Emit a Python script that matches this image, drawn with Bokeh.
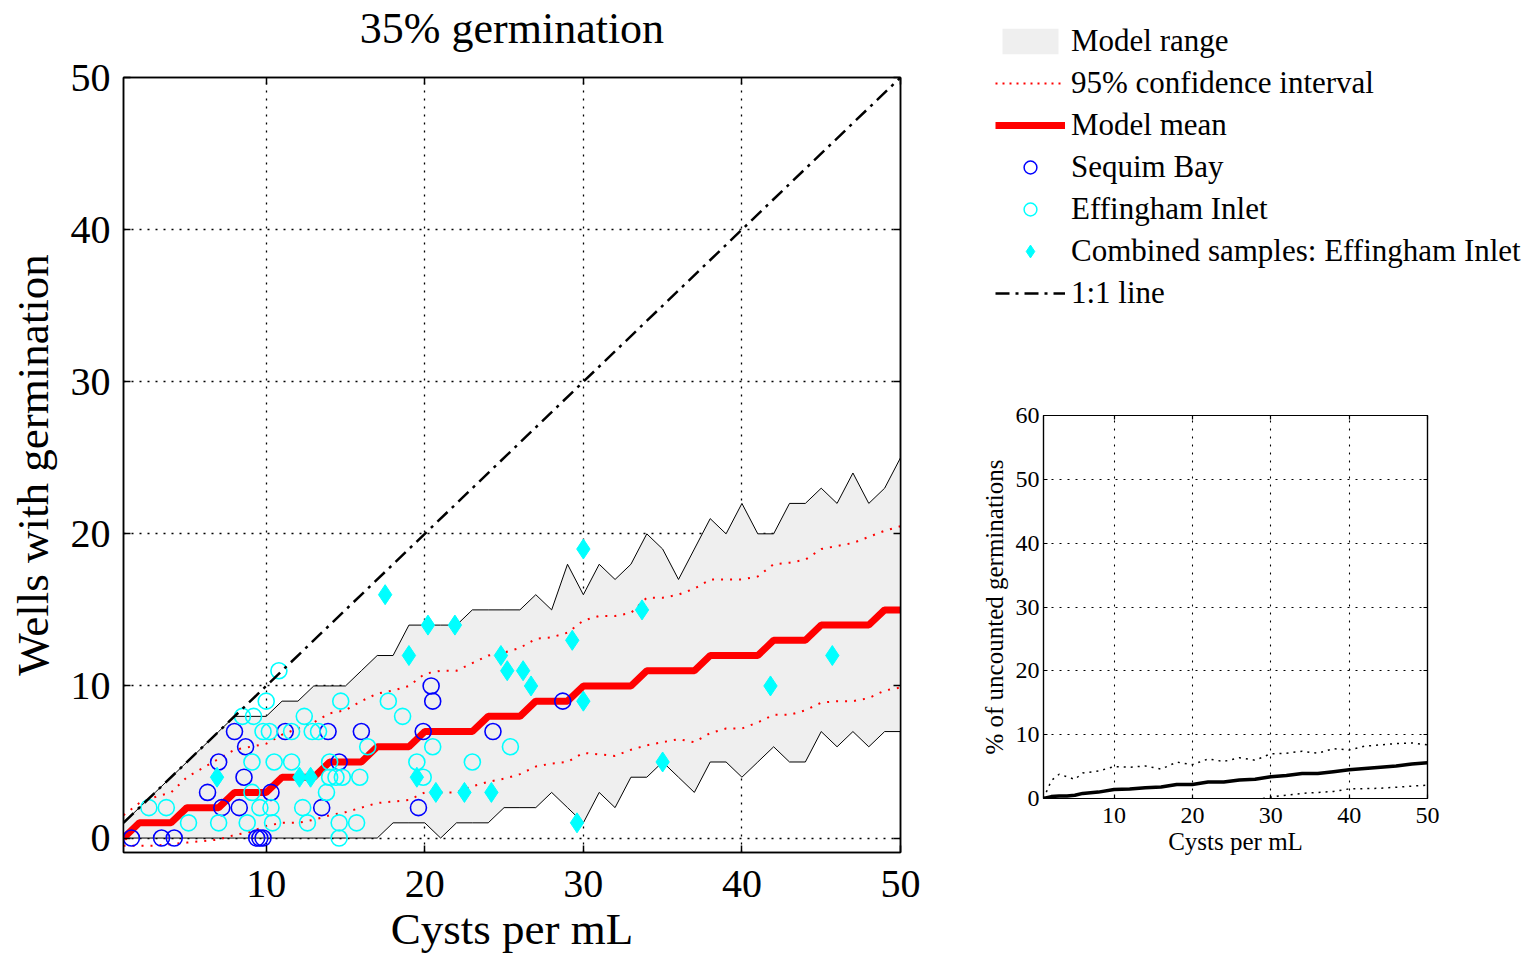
from bokeh.plotting import figure
from bokeh.models import Range1d, Legend, LegendItem, FixedTicker, LinearAxis
from bokeh.layouts import row, column
from bokeh.embed import file_html
from bokeh.resources import INLINE

FONT = "Liberation Serif"
TITLE = "35% germination"

# ---------------- data: main panel ----------------
model_x = list(range(1, 51))
range_upper = [1, 2, 3, 4, 5, 6, 7, 8, 8, 8,
               9, 9, 10, 10, 10, 11, 12, 12, 14, 14,
               14, 14, 15, 15, 15, 15, 16, 15, 18, 16,
               18, 17, 18, 20, 19, 17, 19, 21, 20, 22,
               20, 20, 22, 22, 23, 22, 24, 22, 23, 25]
range_lower = [0, 0, 0, 0, 0, 0, 0, 0, 0, 0,
               0, 0, 0, 0, 0, 0, 0, 1, 1, 1,
               0, 1, 1, 1, 2, 2, 2, 3, 2, 1,
               3, 2, 4, 4, 5, 4, 3, 5, 5, 4,
               5, 6, 5, 5, 7, 6, 7, 6, 7, 7]
model_mean = [0, 1, 1, 1, 2, 2, 2, 3, 3, 3,
              4, 4, 4, 5, 5, 5, 6, 6, 6, 7,
              7, 7, 7, 8, 8, 8, 9, 9, 9, 10,
              10, 10, 10, 11, 11, 11, 11, 12, 12, 12,
              12, 13, 13, 13, 14, 14, 14, 14, 15, 15]
ci_upper = [1.5, 2.3, 2.7, 3.0, 4.0, 4.6, 5.2, 5.8, 6.0, 6.2,
            6.8, 7.2, 7.6, 8.2, 8.4, 9.0, 9.5, 9.7, 10.0, 10.8,
            11.0, 11.0, 11.5, 12.0, 12.2, 12.5, 13.1, 13.2, 13.5, 14.3,
            14.6, 14.6, 14.8, 15.8, 15.8, 16.0, 16.4, 17.0, 17.0, 17.0,
            17.2, 18.0, 18.1, 18.3, 19.0, 19.2, 19.4, 19.8, 20.2, 20.5]
ci_lower = [-0.5, -0.5, -0.5, -0.4, -0.3, -0.2, -0.1, 0.2, 0.4, 0.8,
            1.0, 1.0, 1.2, 1.5, 1.7, 2.0, 2.3, 2.4, 2.5, 3.0,
            3.0, 3.0, 3.4, 3.7, 3.9, 4.2, 4.7, 4.9, 5.0, 5.6,
            5.5, 5.4, 5.8, 6.1, 6.3, 6.5, 6.3, 6.9, 7.2, 7.2,
            7.6, 8.1, 8.1, 8.4, 8.9, 9.0, 9.0, 9.2, 9.7, 9.9]
one_to_one = [1, 50]

sequim_x = [1.5, 3.4, 4.2, 9.4, 9.6, 9.8, 6.3, 7.0, 7.2, 8.0, 8.3, 8.6, 8.7,
            10.3, 11.2, 13.5, 13.9, 14.6, 16.0, 19.6, 19.9, 20.4, 20.5, 24.3, 28.7]
sequim_y = [0, 0, 0, 0, 0, 0, 3, 5, 2, 7, 2, 4, 6,
            3, 7, 2, 7, 5, 7, 2, 7, 10, 9, 7, 9]

effing_x = [2.6, 3.7, 5.1, 7.0, 8.8, 10.4, 8.5, 9.2, 10.0, 10.8, 9.8, 10.2,
            9.1, 10.5, 11.6, 9.1, 10.3, 9.6, 12.3, 12.6, 14.6, 15.7, 14.6, 11.6,
            12.9, 13.3, 12.4, 14.7, 14.0, 14.0, 14.4, 14.8, 15.9, 13.8, 16.4,
            17.7, 18.6, 19.5, 19.9, 20.5, 23.0, 25.4]
effing_y = [2, 2, 1, 1, 1, 1, 8, 8, 9, 11, 7, 7,
            5, 5, 5, 3, 2, 2, 2, 1, 1, 1, 0, 7,
            7, 7, 8, 9, 5, 4, 4, 4, 4, 3, 6,
            9, 8, 5, 4, 6, 5, 6]

combined_x = [6.9, 12.1, 12.8, 17.5, 19.0, 19.5, 20.2, 20.7, 21.9, 22.5, 24.2,
              24.8, 25.2, 26.2, 26.7, 29.3, 29.6, 30.0, 30.0, 33.7, 35.0, 41.8, 45.7]
combined_y = [4, 4, 4, 16, 12, 4, 14, 3, 14, 3, 3,
              12, 11, 11, 10, 13, 1, 19, 9, 15, 5, 10, 12]

x_ticks = [10, 20, 30, 40, 50]
y_ticks = [0, 10, 20, 30, 40, 50]

# ---------------- data: inset panel ----------------
small_x = [1, 2, 3, 4, 5, 6, 8, 10, 12, 14, 16, 18, 20, 22, 24, 26, 28, 30,
           32, 34, 36, 38, 40, 42, 44, 46, 48, 50]
small_mean = [0, 0.3, 0.4, 0.4, 0.5, 0.8, 1.0, 1.4, 1.5, 1.7, 1.8, 2.2, 2.2, 2.6,
              2.6, 2.9, 3.0, 3.4, 3.6, 3.9, 3.9, 4.2, 4.5, 4.7, 4.9, 5.1, 5.4, 5.6]
small_upper = [0, 2.8, 3.8, 3.4, 3.0, 4.0, 4.3, 5.0, 4.9, 5.1, 4.6, 5.7, 5.3, 6.2,
               5.8, 6.4, 6.0, 7.0, 7.1, 7.4, 7.1, 7.8, 7.6, 8.2, 8.4, 8.6, 8.7, 8.4]
small_lower_x = [29, 31, 34, 38, 40, 44, 50]
small_lower = [0, 0.4, 0.8, 1.1, 1.5, 1.6, 2.1]
small_x_ticks = [10, 20, 30, 40, 50]
small_y_ticks = [0, 10, 20, 30, 40, 50, 60]

GRAY = "#efefef"
DASHDOT = "14 6 3 6"
GRIDDOT = "2 6"
REDDOT = "2 7"


def style_axis(ax, tick_size, label_size, tick_standoff, label_standoff, tick_len, lw):
    ax.major_label_text_font = FONT
    ax.major_label_text_font_size = tick_size
    ax.major_label_text_color = "black"
    ax.axis_label_text_font = FONT
    ax.axis_label_text_font_size = label_size
    ax.axis_label_text_font_style = "normal"
    ax.axis_label_text_color = "black"
    ax.major_tick_in = tick_len
    ax.major_tick_out = 0
    ax.minor_tick_in = 0
    ax.minor_tick_out = 0
    ax.axis_line_width = lw
    ax.major_tick_line_width = lw
    ax.major_label_standoff = tick_standoff
    ax.axis_label_standoff = label_standoff


def style_grid(fig, lw):
    for g in fig.grid:
        g.grid_line_color = "black"
        g.grid_line_dash = GRIDDOT
        g.grid_line_width = lw


def box_axis(ticks, tick_len, lw):
    """Axis for the opposite side of the box: inward ticks, no tick labels."""
    ax = LinearAxis(ticker=FixedTicker(ticks=ticks),
                    major_label_overrides={t: "" for t in ticks})
    ax.major_tick_in = tick_len
    ax.major_tick_out = 0
    ax.minor_tick_in = 0
    ax.minor_tick_out = 0
    ax.axis_line_width = lw
    ax.major_tick_line_width = lw
    ax.major_label_text_font_size = "0px"
    ax.major_label_standoff = 0
    return ax


# ---------------- main figure ----------------
p = figure(width=960, height=959, x_range=Range1d(1, 50), y_range=Range1d(-0.95, 50),
           output_backend="svg", toolbar_location=None, title=None,
           min_border_left=123, min_border_right=60, min_border_top=77, min_border_bottom=107)
p.frame_align = False
p.outline_line_color = "black"
p.outline_line_width = 1.5
p.xaxis.axis_label = "Cysts per mL"
p.yaxis.axis_label = "Wells with germination"
p.xaxis.ticker = FixedTicker(ticks=x_ticks)
p.yaxis.ticker = FixedTicker(ticks=y_ticks)
style_axis(p.xaxis[0], "40px", "45px", 18, 4, 7, 1.5)
style_axis(p.yaxis[0], "40px", "45px", 13, 10, 7, 1.5)
style_grid(p, 1.3)
top_axis = box_axis(x_ticks, 7, 1.5)
top_axis.axis_label = TITLE           # the panel title sits on the top edge of the box
top_axis.axis_label_text_font = FONT
top_axis.axis_label_text_font_size = "44px"
top_axis.axis_label_text_font_style = "normal"
top_axis.axis_label_text_color = "black"
top_axis.axis_label_standoff = 25
p.add_layout(top_axis, "above")
p.add_layout(box_axis(y_ticks, 7, 1.5), "right")

p.varea(x=model_x, y1=range_lower, y2=range_upper, fill_color=GRAY)
p.line(model_x, range_upper, line_color="black", line_width=1)
p.line(model_x, range_lower, line_color="black", line_width=1)
p.line(model_x, ci_upper, line_color="red", line_width=2, line_dash=REDDOT)
p.line(model_x, ci_lower, line_color="red", line_width=2, line_dash=REDDOT)
p.line(model_x, model_mean, line_color="red", line_width=7)
p.scatter(sequim_x, sequim_y, marker="circle", size=16, fill_color=None,
          line_color="blue", line_width=1.6)
p.scatter(effing_x, effing_y, marker="circle", size=16, fill_color=None,
          line_color="cyan", line_width=1.6)
p.scatter(combined_x, combined_y, marker="diamond", size=20, fill_color="cyan",
          line_color="cyan")
p.line(one_to_one, one_to_one, line_color="black", line_width=2.5, line_dash=DASHDOT)

# ---------------- legend figure ----------------
lg = figure(width=576, height=330, x_range=Range1d(0, 1), y_range=Range1d(0, 1),
            x_axis_location=None, y_axis_location=None, output_backend="svg",
            toolbar_location=None, min_border_left=35, min_border_top=23,
            min_border_right=0, min_border_bottom=0)
lg.frame_align = False
lg.outline_line_color = None
lg.grid.visible = False
# legend-only renderers: their points lie outside this figure's visible ranges
off = [-5, -4]
r1 = lg.varea(x=off, y1=[-5, -5], y2=[-4, -4], fill_color=GRAY)
r2 = lg.line(x=off, y=off, line_color="red", line_width=2, line_dash="2 5")
r3 = lg.line(x=off, y=off, line_color="red", line_width=7)
r4 = lg.scatter(x=off, y=off, marker="circle", size=14, fill_color=None,
                line_color="blue", line_width=1.5)
r5 = lg.scatter(x=off, y=off, marker="circle", size=14, fill_color=None,
                line_color="cyan", line_width=1.5)
r6 = lg.scatter(x=off, y=off, marker="diamond", size=21, fill_color="cyan",
                line_color="cyan")
r7 = lg.line(x=off, y=off, line_color="black", line_width=2.5, line_dash=DASHDOT)
legend = Legend(items=[
    LegendItem(label="Model range", renderers=[r1]),
    LegendItem(label="95% confidence interval", renderers=[r2]),
    LegendItem(label="Model mean", renderers=[r3]),
    LegendItem(label="Sequim Bay", renderers=[r4]),
    LegendItem(label="Effingham Inlet", renderers=[r5]),
    LegendItem(label="Combined samples: Effingham Inlet", renderers=[r6]),
    LegendItem(label="1:1 line", renderers=[r7]),
], location="top_left")
legend.label_text_font = FONT
legend.label_text_font_size = "31px"
legend.label_text_color = "black"
legend.glyph_width = 70
legend.glyph_height = 32
legend.label_height = 36
legend.label_standoff = 6
legend.spacing = 6
legend.padding = 0
legend.margin = 0
legend.border_line_color = None
legend.background_fill_alpha = 0
lg.add_layout(legend, "center")

# ---------------- inset figure ----------------
s = figure(width=576, height=629, x_range=Range1d(1, 50), y_range=Range1d(0, 60),
           output_backend="svg", toolbar_location=None,
           min_border_left=83, min_border_right=109, min_border_top=85, min_border_bottom=161)
s.frame_align = False
s.outline_line_color = "black"
s.outline_line_width = 1.2
s.xaxis.axis_label = "Cysts per mL"
s.yaxis.axis_label = "% of uncounted germinations"
s.xaxis.ticker = FixedTicker(ticks=small_x_ticks)
s.yaxis.ticker = FixedTicker(ticks=small_y_ticks)
style_axis(s.xaxis[0], "24px", "25px", 9, 2, 4, 1.2)
style_axis(s.yaxis[0], "24px", "25px", 4, 5, 4, 1.2)
style_grid(s, 1.1)
s.add_layout(box_axis(small_x_ticks, 4, 1.2), "above")
s.add_layout(box_axis(small_y_ticks, 4, 1.2), "right")
s.line(small_x, small_upper, line_color="black", line_width=1.5, line_dash="2 5")
s.line(small_lower_x, small_lower, line_color="black", line_width=1.5, line_dash="2 5")
s.line(small_x, small_mean, line_color="black", line_width=3.5)

layout = row(p, column(lg, s))
open("out.html", "w").write(file_html(layout, INLINE))
